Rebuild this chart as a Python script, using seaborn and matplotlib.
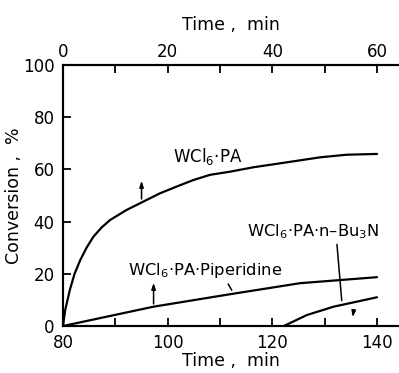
import matplotlib
matplotlib.use("Agg")
import matplotlib.pyplot as plt
import seaborn as sns
import pandas as pd
from matplotlib.ticker import MultipleLocator

# ---- data ----
# WCl6·PA  -> upper time axis (0-60 min)
pa_time = [0, 0.4, 1.3, 2.2, 3.3, 4.5, 5.8, 7.4, 9.0, 12.1, 15.3, 18.5, 21.7, 24.9, 28.1, 31.9, 36.4, 42.8, 49.1, 54.2, 60]
pa_conv = [0, 6.0, 13.8, 20.0, 25.3, 30.0, 34.2, 37.8, 40.6, 44.4, 47.6, 50.8, 53.4, 55.9, 57.9, 59.1, 60.8, 62.7, 64.6, 65.6, 65.9]
# WCl6·PA·Piperidine -> upper time axis (0-60 min)
pip_time = [0, 17.3, 32.0, 45.3, 60]
pip_conv = [0, 7.4, 12.2, 16.4, 18.7]
# WCl6·PA·n-Bu3N -> lower time axis (80-140 min)
bu_time = [122.2, 126.6, 131.7, 140]
bu_conv = [0, 4.2, 7.4, 11.0]

bottom_ticks = [80, 100, 120, 140]
top_ticks = [0, 20, 40, 60]
y_ticks = [0, 20, 40, 60, 80, 100]

sns.set_theme(style="white")
plt.rcParams["font.family"] = ["DejaVu Sans"]
plt.rcParams.update({"text.color": "black", "axes.labelcolor": "black",
                     "xtick.color": "black", "ytick.color": "black"})

fig = plt.figure(figsize=(3.99, 3.73), dpi=100)
ax = fig.add_axes([0.158, 0.126, 0.842, 0.700])
ax2 = ax.twiny()

df_pa = pd.DataFrame({"t": pa_time, "c": pa_conv})
df_pip = pd.DataFrame({"t": pip_time, "c": pip_conv})
df_bu = pd.DataFrame({"t": bu_time, "c": bu_conv})

sns.lineplot(data=df_bu, x="t", y="c", ax=ax, color="black", linewidth=1.6)
sns.lineplot(data=df_pa, x="t", y="c", ax=ax2, color="black", linewidth=1.6)
sns.lineplot(data=df_pip, x="t", y="c", ax=ax2, color="black", linewidth=1.6)

ax.set_xlim(80, 144.2)
ax2.set_xlim(0, 64.2)
ax.set_ylim(0, 100)
ax2.set_ylim(0, 100)

for a in (ax, ax2):
    a.spines["right"].set_visible(False)
    for s in ("left", "top", "bottom"):
        a.spines[s].set_linewidth(1.5)
        a.spines[s].set_color("black")

ax.set_xticks(bottom_ticks)
ax.xaxis.set_minor_locator(MultipleLocator(10))
ax.set_yticks(y_ticks)
ax2.set_xticks(top_ticks)
ax2.xaxis.set_minor_locator(MultipleLocator(10))

ax.tick_params(axis="x", which="both", direction="in", length=6, width=1.3,
               labelsize=12, pad=6, color="black", labelcolor="black", bottom=True)
ax.tick_params(axis="y", which="both", direction="in", length=6, width=1.3,
               labelsize=12, pad=6, color="black", labelcolor="black", left=True)
ax2.tick_params(axis="x", which="both", direction="in", length=6, width=1.3,
                labelsize=12, pad=3, color="black", labelcolor="black", top=True)

ax.set_xlabel("Time ,  min", fontsize=12.5, labelpad=0, color="black")
ax2.set_xlabel("Time ,  min", fontsize=12.5, labelpad=9, color="black")
ax.set_ylabel("Conversion ,  %", fontsize=12.5, labelpad=0, color="black")

# curve labels
ax.text(101.0, 63, r"WCl$_6$·PA", fontsize=12, va="baseline", ha="left", color="black")
ax.text(92.4, 19.5, r"WCl$_6$·PA·Piperidine", fontsize=11.8, va="baseline", ha="left", color="black")
ax.text(115.1, 34.2, r"WCl$_6$·PA·n–Bu$_3$N", fontsize=11.8, va="baseline", ha="left", color="black")

# leader lines / axis-pointer ticks
lk = dict(arrowstyle="-", color="black", lw=1.1)
ak = dict(arrowstyle="-|>,head_length=0.3,head_width=0.1", color="black", lw=1.1)
ax.annotate("", xy=(95.0, 56.7), xytext=(95.0, 47.6), arrowprops=ak)
ax.annotate("", xy=(97.3, 17.6), xytext=(97.3, 7.4), arrowprops=ak)
ax.annotate("", xy=(111.3, 17.0), xytext=(112.5, 12.8), arrowprops=lk)
ax.annotate("", xy=(133.3, 8.7), xytext=(132.3, 32.3), arrowprops=lk)
ax.annotate("", xy=(135.3, 2.3), xytext=(135.6, 6.9), arrowprops=ak)

fig.savefig("out.png", dpi=100)
